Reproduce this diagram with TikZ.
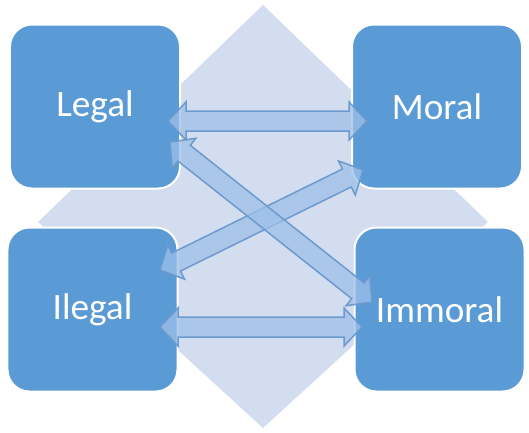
\documentclass[tikz,border=0pt]{standalone}
\usepackage{fontspec}
\setmainfont{Carlito}
\usetikzlibrary{calc}

\definecolor{boxblue}{HTML}{5B9BD5}
\definecolor{diamondblue}{HTML}{D2DDF0}
\definecolor{arrowfill}{HTML}{9DC0E8}
\definecolor{arrowline}{HTML}{6C9ACF}

\newcommand{\blockarrow}[3]{%
  \coordinate (#3-p) at ($(#1)!1.8mm!(#2)$) ;
  \coordinate (#3-q) at ($(#2)!1.8mm!(#1)$) ;
  \draw [linkarrow] (#1)
    -- ($(#3-p)!1.9mm!90:(#2)$) -- ($(#3-p)!1mm!90:(#2)$)
    -- ($(#3-q)!1mm!-90:(#1)$) -- ($(#3-q)!1.9mm!-90:(#1)$)
    -- (#2)
    -- ($(#3-q)!1.9mm!90:(#1)$) -- ($(#3-q)!1mm!90:(#1)$)
    -- ($(#3-p)!1mm!-90:(#2)$) -- ($(#3-p)!1.9mm!-90:(#2)$)
    -- cycle ;
}

\begin{document}
\begin{tikzpicture}[x=1mm, y=1mm,
    box/.style={fill=boxblue, draw=white, line width=0.2mm, rounded corners=2.2mm,
      minimum width=17mm, minimum height=16.4mm, text=white,
      font=\fontsize{10.6}{12}\selectfont},
    linkarrow/.style={fill=arrowfill, fill opacity=0.75, draw=arrowline, line width=0.15mm}]
    \useasboundingbox (0,0) rectangle (52.9,43.2) ;
    \fill [diamondblue] (26.3,42.7) -- (48.8,21.0) -- (26.3,0.4) -- (3.8,21.0) -- cycle ;

    \node [box] (legal) at (9.5,32.55) {Legal} ;
    \node [box] (moral) at (43.7,32.55) {Moral} ;
    \node [box] (ilegal) at (9.25,12.25) {Ilegal} ;
    \node [box] (immoral) at (43.95,12.25) {Immoral} ;

    \coordinate (legal-r) at (16.8,31.1) ;
    \coordinate (moral-l) at (36.7,31.1) ;
    \coordinate (ilegal-r) at (16.0,10.5) ;
    \coordinate (immoral-l) at (36.2,10.5) ;
    \coordinate (legal-d) at (17.0,29.0) ;
    \coordinate (immoral-u) at (37.2,13.0) ;
    \coordinate (ilegal-u) at (16.0,16.2) ;
    \coordinate (moral-d) at (36.3,26.2) ;

    \blockarrow{legal-r}{moral-l}{top}
    \blockarrow{ilegal-r}{immoral-l}{bottom}
    \blockarrow{ilegal-u}{moral-d}{rise}
    \blockarrow{legal-d}{immoral-u}{fall}
\end{tikzpicture}
\end{document}
